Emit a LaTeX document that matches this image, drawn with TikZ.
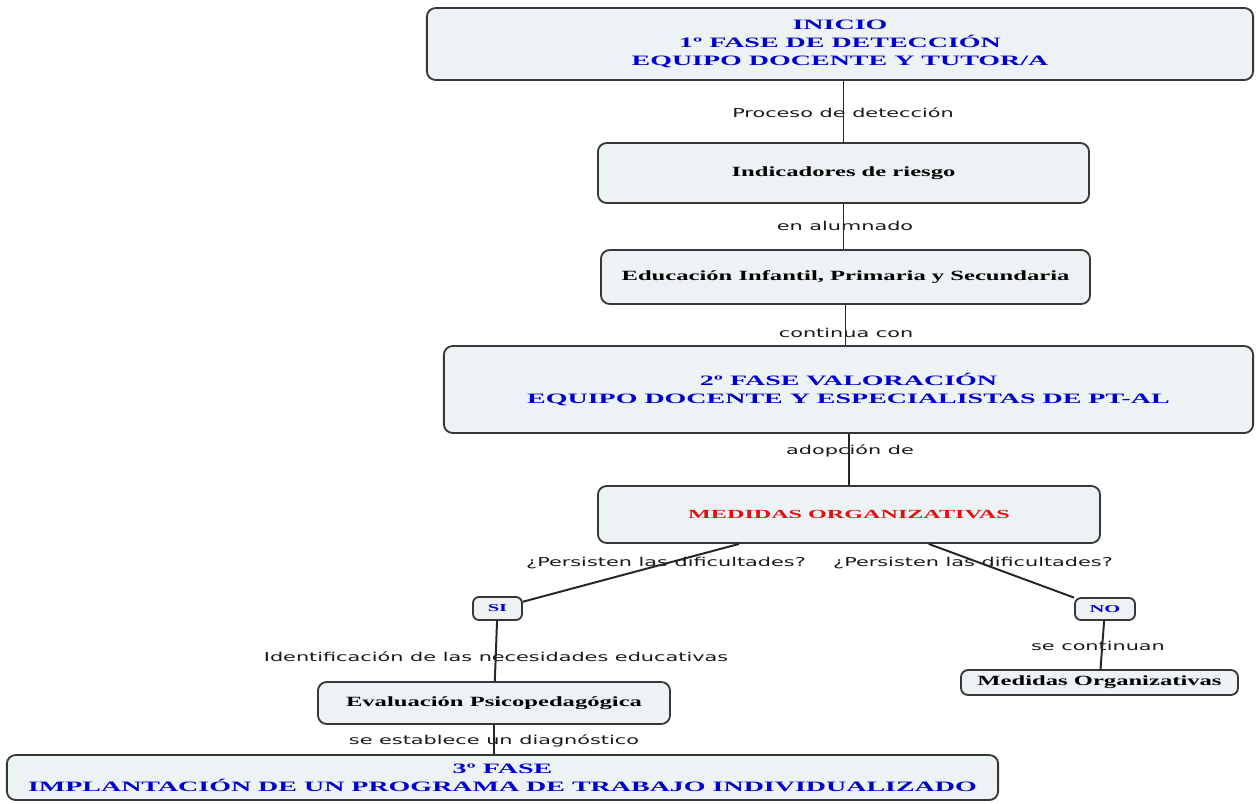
\documentclass[tikz,border=0pt]{standalone}
\usepackage{fontspec}
\newfontfamily\boxfont[FakeStretch=1.75]{Liberation Serif}
\newfontfamily\titlefont[FakeStretch=1.95]{Liberation Serif}
\newfontfamily\linkfont[FakeStretch=1.7]{DejaVu Sans}
\definecolor{boxfill}{RGB}{237,242,245}
\definecolor{boxline}{RGB}{55,55,55}
\definecolor{titleblue}{RGB}{0,0,205}
\definecolor{titlered}{RGB}{225,15,15}

\begin{document}
\begin{tikzpicture}[x=0.025cm,y=-0.025cm]
    \tikzstyle{every node}+=[inner sep=0pt]
    \tikzstyle{concept}=[draw=boxline, line width=1.3pt, fill=boxfill, rounded corners=0.22cm, align=center, font=\boxfont\bfseries\fontsize{10}{12.6}\selectfont]
    \tikzstyle{phase}=[concept, text=titleblue, font=\titlefont\bfseries\fontsize{10.2}{12.6}\selectfont]
    \tikzstyle{answer}=[concept, rounded corners=0.15cm, text=titleblue, font=\titlefont\bfseries\fontsize{7.5}{8}\selectfont]
    \tikzstyle{link}=[font=\linkfont\fontsize{8.7}{10}\selectfont, text=black!90]
    \tikzstyle{conn}=[draw=black!85, line width=1.4pt]
    \useasboundingbox (0,0) rectangle (1256,803);
    \node [phase, minimum width=20.65cm, minimum height=1.8cm] (ini) at (840,44) {INICIO\\1º FASE DE DETECCIÓN\\EQUIPO DOCENTE Y TUTOR/A};
    \node [concept, minimum width=12.275cm, minimum height=1.5cm] (ind) at (843.5,173) {Indicadores de riesgo};
    \node [concept, minimum width=12.225cm, minimum height=1.35cm] (edu) at (845.5,277) {Educación Infantil, Primaria y Secundaria};
    \node [phase, minimum width=20.225cm, minimum height=2.175cm] (fase2) at (848.5,389.5) {2º FASE VALORACIÓN\\EQUIPO DOCENTE Y ESPECIALISTAS DE PT-AL};
    \node [concept, text=titlered, font=\titlefont\bfseries\fontsize{8.8}{10}\selectfont, minimum width=12.55cm, minimum height=1.425cm] (med) at (849,514.5) {MEDIDAS ORGANIZATIVAS};
    \node [answer, minimum width=1.225cm, minimum height=0.575cm] (si) at (497.5,608.5) {SI};
    \node [answer, minimum width=1.5cm, minimum height=0.55cm] (no) at (1105,609) {NO};
    \node [concept, minimum width=8.8cm, minimum height=1.05cm] (eva) at (494,703) {Evaluación Psicopedagógica};
    \node [phase, minimum width=24.775cm, minimum height=1.125cm] (fase3) at (502.5,777.5) {3º FASE\\IMPLANTACIÓN DE UN PROGRAMA DE TRABAJO INDIVIDUALIZADO};
    \node [concept, rounded corners=0.18cm, minimum width=6.925cm, minimum height=0.625cm] (medorg) at (1099.5,682.5) {Medidas Organizativas};
    \node [link] (l1) at (843,113) {Proceso de detección};
    \node [link] (l2) at (845,226) {en alumnado};
    \node [link] (l3) at (846,333) {continua con};
    \node [link] (l4) at (850,451) {adopción de};
    \node [link] (l5) at (666,563) {¿Persisten las dificultades?};
    \node [link] (l6) at (973,563) {¿Persisten las dificultades?};
    \node [link] (l7) at (496,657) {Identificación de las necesidades educativas};
    \node [link] (l8) at (1098,646) {se continuan};
    \node [link] (l9) at (494,741) {se establece un diagnóstico};
    \draw [conn] (ind |- ini.south) -- (ind.north);
    \draw [conn] (ind.south) -- (ind |- edu.north);
    \draw [conn] (edu.south) -- (edu |- fase2.north);
    \draw [conn] (med |- fase2.south) -- (med.north);
    \draw [conn] (med) -- (si);
    \draw [conn] (med) -- (no);
    \draw [conn] (si) -- (eva);
    \draw [conn] (no) -- (medorg);
    \draw [conn] (eva.south) -- (eva.south |- fase3.north);
\end{tikzpicture}
\end{document}
